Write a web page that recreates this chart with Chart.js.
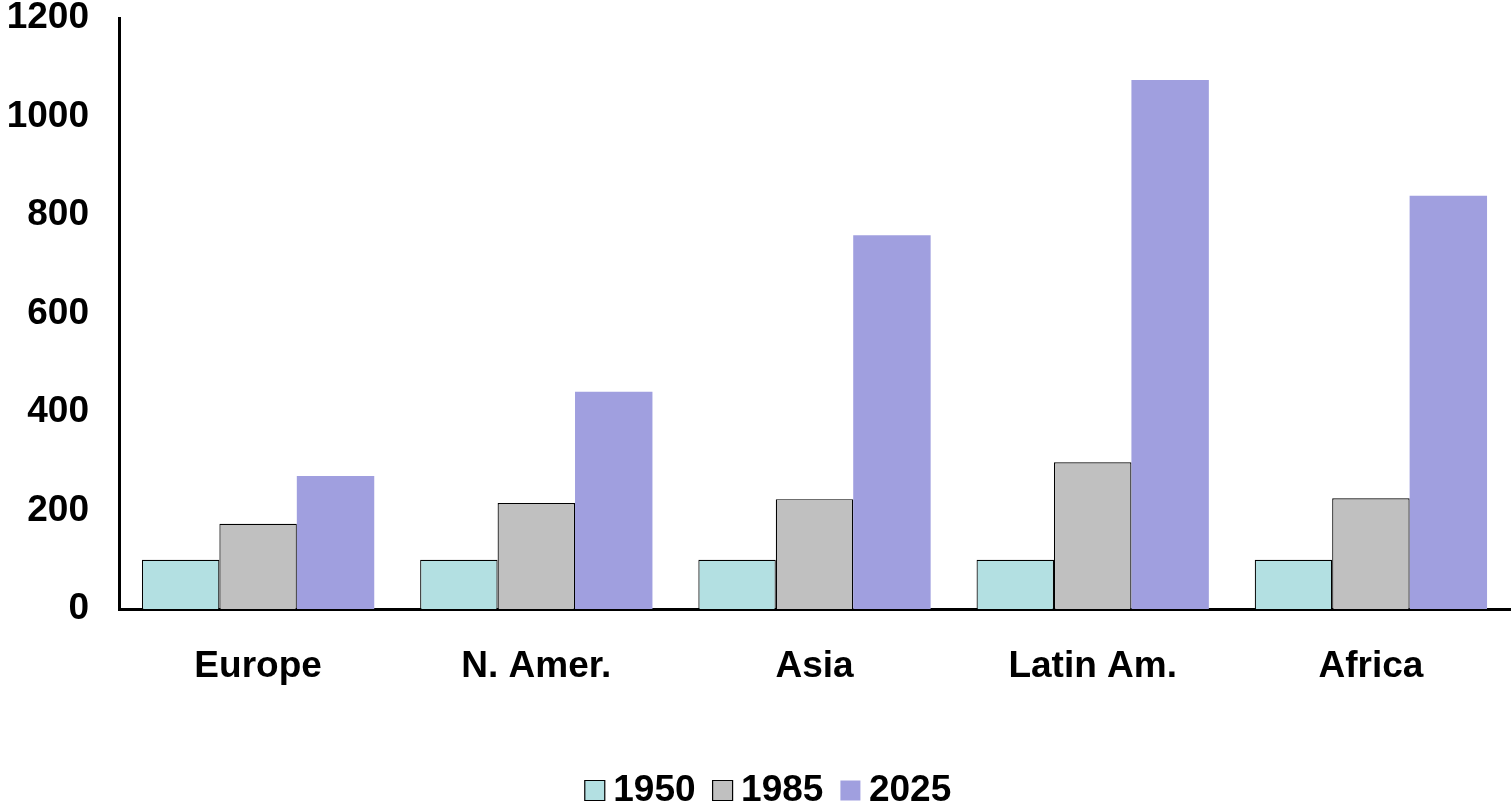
<!DOCTYPE html>
<html><head><meta charset="utf-8">
<script src="https://cdn.jsdelivr.net/npm/chart.js@4/dist/chart.umd.min.js"></script>
<style>html,body{margin:0;padding:0;background:#fff;}#wrap{width:1512px;height:803px;}</style>
</head><body><div id="wrap"><canvas id="c" width="1512" height="803"></canvas></div>
<script>
const categories = ["Europe", "N. Amer.", "Asia", "Latin Am.", "Africa"];
const seriesNames = ["1950", "1985", "2025"];
const values1950 = [100, 100, 100, 100, 100];
const values1985 = [173, 215, 223, 298, 225];
const values2025 = [270, 441, 759, 1074, 839];
const yTicks = [0, 200, 400, 600, 800, 1000, 1200];

const font = {family: "'Liberation Sans', Arial, sans-serif", weight: 'bold', size: 37};
new Chart(document.getElementById('c'), {
  type: 'bar',
  data: {
    labels: categories,
    datasets: [
      {label: seriesNames[0], data: values1950, backgroundColor: '#b3e0e2', borderColor: '#000', borderWidth: 1.2},
      {label: seriesNames[1], data: values1985, backgroundColor: '#c0c0c0', borderColor: '#000', borderWidth: 1.2},
      {label: seriesNames[2], data: values2025, backgroundColor: '#a09fdf', borderColor: '#a09fdf', borderWidth: 0}
    ]
  },
  options: {
    responsive: false,
    animation: false,
    devicePixelRatio: 1,
    layout: {padding: {top: 2, right: 2, left: 4, bottom: 0}},
    datasets: {bar: {categoryPercentage: 0.835, barPercentage: 1.0}},
    plugins: {
      legend: {
        position: 'bottom',
        labels: {font: font, color: '#000', usePointStyle: true, pointStyle: 'rect', boxWidth: 0.01, boxHeight: 20, padding: 27},
        onClick: null
      },
      tooltip: {enabled: false}
    },
    scales: {
      x: {
        grid: {display: false, drawTicks: false},
        border: {display: true, color: '#000', width: 3},
        ticks: {font: font, color: '#000', padding: 36},
        afterFit: (axis) => { axis.height = 136; }
      },
      y: {
        min: 0, max: 1200,
        afterBuildTicks: (axis) => { axis.ticks = yTicks.map(v => ({value: v})); },
        grid: {display: false, drawTicks: false},
        border: {display: true, color: '#000', width: 3},
        ticks: {font: font, color: '#000', padding: 30, callback: (v) => String(v)},
        afterFit: (axis) => { axis.width = 115; axis.paddingTop = 18; axis.paddingBottom = 18; }
      }
    }
  },
  plugins: [{
    id: 'legendFit',
    beforeInit(chart) {
      const orig = chart.legend.fit;
      chart.legend.fit = function() { orig.call(this); this.height = 58; };
    },
    afterLayout(chart) {
      chart.legend.left += 16;
      chart.legend.right += 16;
    }
  }]
});
</script></body></html>
